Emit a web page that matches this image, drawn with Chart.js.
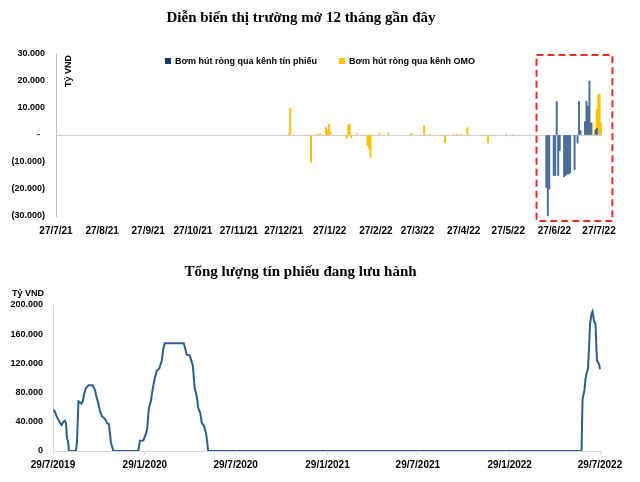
<!DOCTYPE html>
<html lang="vi">
<head>
<meta charset="UTF-8">
<title>Thị trường mở</title>
<script src="https://cdn.jsdelivr.net/npm/chart.js"></script>
<style>
  body { margin: 0; background: #fff; width: 640px; height: 482px; position: relative; overflow: hidden; }
  canvas { position: absolute; left: 0; }
  #top { top: 0; }
  #bottom { top: 250px; }
  .legend { position: absolute; top: 56px; font: bold 9px 'Liberation Sans', sans-serif; color: #000; display: flex; align-items: center; gap: 4px; }
  .legend i { display: inline-block; width: 6px; height: 6px; }
</style>
</head>
<body>
<canvas id="top" width="640" height="250"></canvas>
<canvas id="bottom" width="640" height="232"></canvas>
<div class="legend" style="left:165px"><i style="background:#1F3864"></i><span>Bơm hút ròng qua kênh tín phiếu</span></div>
<div class="legend" style="left:339px"><i style="background:#FFC000"></i><span>Bơm hút ròng qua kênh OMO</span></div>
<script>
// ---- biểu đồ trên: 12 tháng gần đây (tỷ VND) ----
const topStart = '2021-07-27';
const topEnd = '2022-07-29';
const topTickDates = ['2021-07-27','2021-08-27','2021-09-27','2021-10-27','2021-11-27','2021-12-27',
  '2022-01-27','2022-02-27','2022-03-27','2022-04-27','2022-05-27','2022-06-27','2022-07-27'];

const tinPhieuDates = ['2022-06-22','2022-06-23','2022-06-24','2022-06-27','2022-06-28','2022-06-29',
  '2022-06-30','2022-07-01','2022-07-04','2022-07-05','2022-07-06','2022-07-07','2022-07-08','2022-07-11',
  '2022-07-13','2022-07-14','2022-07-15','2022-07-18','2022-07-19','2022-07-20','2022-07-21','2022-07-22',
  '2022-07-25','2022-07-26'];
const tinPhieuValues = [-19500, -30000, -20000, -15000, -15000, 12400,
  -15000, -5800, -15500, -15000, -14500, -14500, -14000, -12800,
  -3000, 12400, 1600, 5000, 12500, 10800, 20000, 4500,
  2000, 2500];

const omoDates = ['2021-12-30','2021-12-31','2022-01-14','2022-01-18','2022-01-20','2022-01-24','2022-01-25',
  '2022-01-26','2022-01-27','2022-02-07','2022-02-08','2022-02-09','2022-02-10','2022-02-14','2022-02-21',
  '2022-02-22','2022-02-23','2022-03-01','2022-03-07','2022-03-22','2022-03-23','2022-03-31','2022-04-04',
  '2022-04-14','2022-04-20','2022-04-22','2022-04-25','2022-04-29','2022-05-13','2022-05-25','2022-05-30',
  '2022-07-22','2022-07-25','2022-07-26','2022-07-27','2022-07-28'];
const omoValues = [500, 10000, -10100, 400, 500, 2800, 1700,
  4000, 1200, -1200, 3700, 4000, -1000, 500, -4000,
  -5000, -8200, 500, 800, 400, 400, 3300, 300,
  -2900, 300, 300, 300, 2700, -2900, 300, 300,
  4500, 9500, 15000, 15000, 4500];

// vùng khoanh đỏ
const boxStart = '2022-06-15';
const boxEnd = '2022-08-05';

// ---- biểu đồ dưới: tổng lượng tín phiếu lưu hành (tỷ VND) ----
const bottomStart = '2019-07-29';
const bottomEnd = '2022-07-31';
const bottomTickDates = ['2019-07-29','2020-01-29','2020-07-29','2021-01-29','2021-07-29','2022-01-29','2022-07-29'];

const luuHanhDates = ['2019-07-29','2019-08-01','2019-08-05','2019-08-12','2019-08-15','2019-08-19','2019-08-22',
  '2019-08-24','2019-08-26','2019-08-28','2019-08-30','2019-09-13','2019-09-15','2019-09-18','2019-09-21',
  '2019-09-24','2019-09-27','2019-09-29','2019-10-03','2019-10-08','2019-10-16','2019-10-21','2019-10-24',
  '2019-10-28','2019-10-31','2019-11-04','2019-11-10','2019-11-15','2019-11-18','2019-11-22','2019-11-27',
  '2020-01-16','2020-01-19','2020-01-26','2020-01-31','2020-02-03','2020-02-06','2020-02-10','2020-02-14',
  '2020-02-18','2020-02-22','2020-02-27','2020-03-03','2020-03-06','2020-03-09','2020-04-16','2020-04-22',
  '2020-04-28','2020-05-04','2020-05-08','2020-05-12','2020-05-15','2020-05-19','2020-05-22','2020-05-27',
  '2020-05-31','2020-06-04','2022-06-22','2022-06-24','2022-06-28','2022-06-30','2022-07-02','2022-07-05',
  '2022-07-07','2022-07-09','2022-07-12','2022-07-14','2022-07-17','2022-07-20','2022-07-22','2022-07-23',
  '2022-07-27','2022-07-29'];
const luuHanhValues = [55800, 55000, 47700, 38700, 35500, 40000, 41500,
  38000, 17000, 14000, 0, 0, 12000, 68000, 66600,
  65000, 68500, 77000, 86000, 90000, 90000, 83800, 74700,
  64800, 54500, 47700, 44000, 37800, 37000, 11700, 0,
  0, 14000, 14400, 23000, 32000, 59000, 68000, 86000,
  99600, 110000, 113000, 124000, 140000, 147700, 147700, 132000,
  131000, 117500, 86000, 74700, 59000, 52000, 38700, 34000,
  23000, 0, 0, 70700, 84000, 99600, 106000, 113000,
  140000, 174000, 187500, 191000, 178000, 174000, 138000, 124000,
  119000, 112000];

// ---- helpers ----
function toUTC(s) {
  const p = s.split('-').map(Number);
  return Date.UTC(p[0], p[1] - 1, p[2]);
}
function dayOf(base, s) {
  return Math.round((toUTC(s) - toUTC(base)) / 86400000);
}
function dateLabel(base, d, shortYear) {
  const t = new Date(toUTC(base) + d * 86400000);
  const y = shortYear ? String(t.getUTCFullYear()).slice(2) : t.getUTCFullYear();
  return t.getUTCDate() + '/' + (t.getUTCMonth() + 1) + '/' + y;
}
function fmt(n) {
  return String(n).replace(/\B(?=(\d{3})+(?!\d))/g, '.');
}

const tickFont = { family: 'Liberation Sans', size: 9, weight: 'bold' };
const xFont = { family: 'Liberation Sans', size: 10, weight: 'bold' };
const titleFont = { family: 'Liberation Serif', size: 15, weight: 'bold' };

const topDecor = {
  id: 'topDecor',
  afterDraw(chart) {
    const ctx = chart.ctx, ca = chart.chartArea;
    const xs = chart.scales.x;
    ctx.save();
    // Tỷ VND (dọc)
    ctx.translate(ca.left + 13, ca.top + 17);
    ctx.rotate(-Math.PI / 2);
    ctx.font = 'bold 9px "Liberation Sans"';
    ctx.fillStyle = '#000';
    ctx.textAlign = 'center';
    ctx.textBaseline = 'middle';
    ctx.fillText('Tỷ VND', 0, 0);
    ctx.restore();
    // khung đỏ nét đứt
    ctx.save();
    const l = xs.getPixelForValue(dayOf(topStart, boxStart));
    const r = xs.getPixelForValue(dayOf(topStart, boxEnd));
    ctx.strokeStyle = '#EE2B2B';
    ctx.lineWidth = 2;
    ctx.setLineDash([7, 4]);
    ctx.strokeRect(l, ca.top + 1, r - l, ca.bottom + 5 - ca.top - 1);
    ctx.restore();
  }
};

new Chart(document.getElementById('top'), {
  type: 'bar',
  data: {
    datasets: [
      {
        label: 'Bơm hút ròng qua kênh tín phiếu',
        data: tinPhieuDates.map((d, i) => ({ x: dayOf(topStart, d), y: tinPhieuValues[i] })),
        backgroundColor: '#4A6B96',
        barThickness: 1.3
      },
      {
        label: 'Bơm hút ròng qua kênh OMO',
        data: omoDates.map((d, i) => ({ x: dayOf(topStart, d), y: omoValues[i] })),
        backgroundColor: '#FFC000',
        barThickness: 1.3
      }
    ]
  },
  options: {
    responsive: false,
    animation: false,
    layout: { padding: { left: 0, right: 38, top: 0, bottom: 4 } },
    plugins: {
      legend: { display: false },
      tooltip: { enabled: false },
      title: {
        display: true,
        text: 'Diễn biến thị trường mở 12 tháng gần đây',
        font: titleFont,
        color: '#000',
        padding: { top: 9, bottom: 27 }
      }
    },
    scales: {
      x: {
        type: 'linear',
        min: 0,
        max: dayOf(topStart, topEnd),
        offset: false,
        grid: { display: false, drawTicks: false, offset: false },
        border: { display: false },
        afterBuildTicks: (axis) => {
          axis.ticks = topTickDates.map(d => ({ value: dayOf(topStart, d) }));
        },
        ticks: {
          autoSkip: false,
          maxRotation: 0,
          padding: 9,
          font: xFont,
          color: '#000',
          callback: (v) => dateLabel(topStart, v, true)
        }
      },
      y: {
        min: -30000,
        max: 30000,
        afterFit: (s) => { s.width = 56; },
        grid: {
          drawTicks: false,
          color: (c) => c.tick && c.tick.value === 0 ? '#d0d0d0' : 'transparent'
        },
        border: { display: true, color: '#c0c0c0' },
        ticks: {
          stepSize: 10000,
          padding: 11,
          font: tickFont,
          color: '#000',
          callback: (v) => v === 0 ? '-  ' : (v < 0 ? '(' + fmt(-v) + ')' : fmt(v))
        }
      }
    }
  },
  plugins: [topDecor]
});

const bottomDecor = {
  id: 'bottomDecor',
  afterDraw(chart) {
    const ctx = chart.ctx, ca = chart.chartArea;
    ctx.save();
    ctx.font = 'bold 9px "Liberation Sans"';
    ctx.fillStyle = '#000';
    ctx.textAlign = 'left';
    ctx.textBaseline = 'middle';
    ctx.fillText('Tỷ VND', 12, ca.top - 11);
    ctx.restore();
  }
};

new Chart(document.getElementById('bottom'), {
  type: 'line',
  data: {
    datasets: [{
      label: 'Tổng lượng tín phiếu đang lưu hành',
      data: luuHanhDates.map((d, i) => ({ x: dayOf(bottomStart, d), y: luuHanhValues[i] })),
      borderColor: '#2F5D8C',
      borderWidth: 2,
      pointRadius: 0,
      tension: 0,
      fill: false
    }]
  },
  options: {
    responsive: false,
    animation: false,
    layout: { padding: { left: 0, right: 39, top: 0, bottom: 7 } },
    plugins: {
      legend: { display: false },
      tooltip: { enabled: false },
      title: {
        display: true,
        text: 'Tổng lượng tín phiếu đang lưu hành',
        font: titleFont,
        color: '#000',
        padding: { top: 13, bottom: 24 }
      }
    },
    scales: {
      x: {
        type: 'linear',
        min: 0,
        max: dayOf(bottomStart, bottomEnd),
        grid: { drawOnChartArea: false, drawTicks: true, tickLength: 4, color: '#d9d9d9' },
        border: { display: true, color: '#d9d9d9' },
        afterBuildTicks: (axis) => {
          axis.ticks = bottomTickDates.map(d => ({ value: dayOf(bottomStart, d) }));
        },
        ticks: {
          autoSkip: false,
          maxRotation: 0,
          padding: 4,
          font: xFont,
          color: '#000',
          callback: (v) => dateLabel(bottomStart, v, false)
        }
      },
      y: {
        min: 0,
        max: 200000,
        afterFit: (s) => { s.width = 53; },
        grid: { display: false, drawTicks: false },
        border: { display: true, color: '#d9d9d9' },
        ticks: {
          stepSize: 40000,
          padding: 10,
          font: tickFont,
          color: '#000',
          callback: (v) => fmt(v)
        }
      }
    }
  },
  plugins: [bottomDecor]
});
</script>
</body>
</html>
